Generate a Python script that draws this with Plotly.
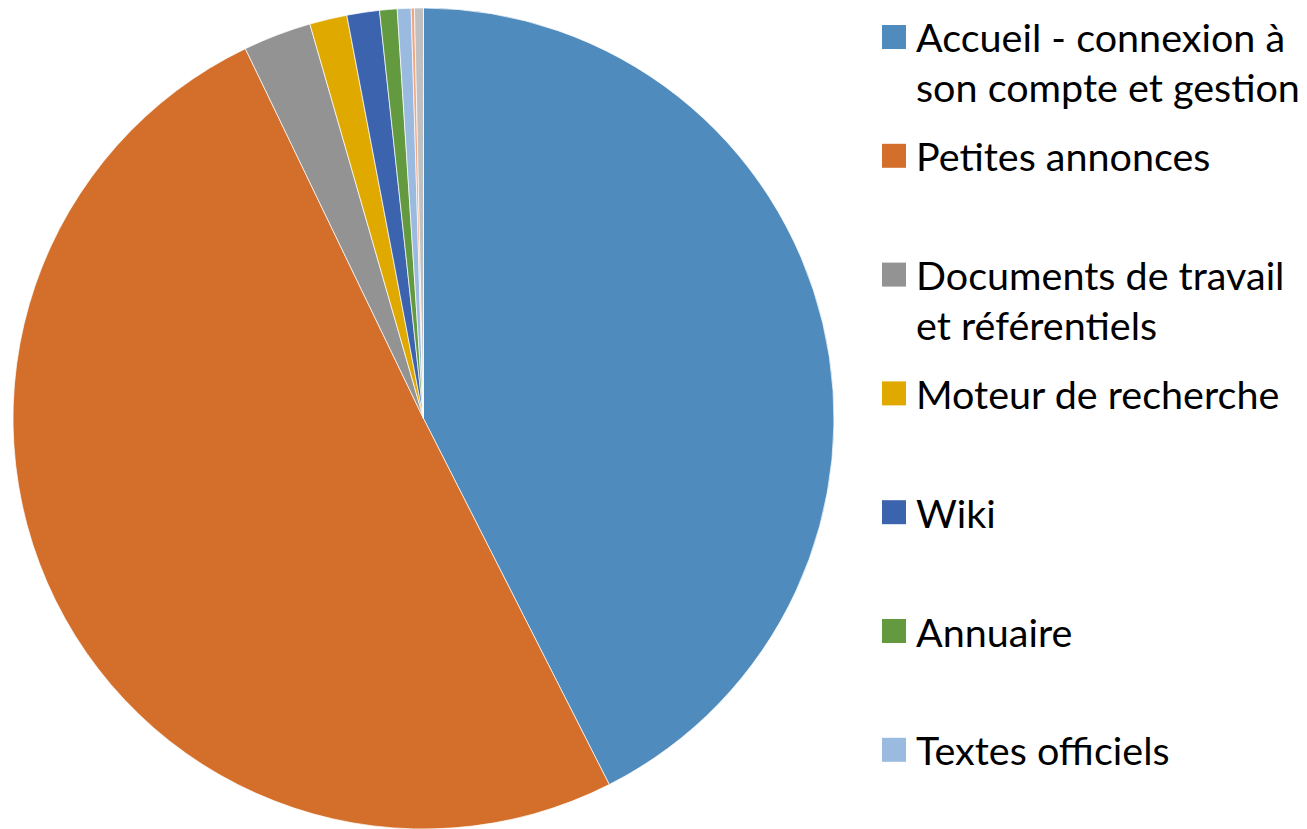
import plotly.graph_objects as go

# Data (percent shares, clockwise from 12 o'clock)
labels = [
    "Accueil - connexion à son compte et gestion",
    "Petites annonces",
    "Documents de travail et référentiels",
    "Moteur de recherche",
    "Wiki",
    "Annuaire",
    "Textes officiels",
    "Actualités",
    "Autres",
]
values = [42.5, 50.3, 2.68, 1.47, 1.28, 0.69, 0.54, 0.13, 0.35]
colors = ["#508BBE", "#D36F2B", "#939393", "#E0A900", "#3C64AE",
          "#63993F", "#9ABAE0", "#F0A683", "#C0C0C0"]
# legend text as wrapped in the reference (only the first 7 entries fit)
legend_text = [
    "Accueil - connexion à<br>son compte et gestion",
    "Petites annonces",
    "Documents de travail<br>et référentiels",
    "Moteur de recherche",
    "Wiki",
    "Annuaire",
    "Textes officiels",
]

# page has an 8px body margin -> figure is 8px smaller and offset
OFF = 8
W, H = 1307 - OFF, 829 - OFF
FONT = "Lato"
FS = 39.5

fig = go.Figure()
fig.add_trace(go.Pie(
    labels=labels, values=values, sort=False, direction="clockwise",
    rotation=0, textinfo="none", hoverinfo="label+percent",
    marker=dict(colors=colors, line=dict(color="white", width=0.7)),
    domain=dict(x=[5 / W, 826 / W], y=[0, 1]),
    showlegend=False,
))

# Custom legend (Excel-like even spacing, truncated at the bottom)
shapes, annotations = [], []
y0, step, line_gap = 37 - OFF, 118.8, 50
for i, txt in enumerate(legend_text):
    yc = y0 + i * step
    shapes.append(dict(type="rect", xref="paper", yref="paper",
                       x0=(882 - OFF) / W, x1=(906 - OFF) / W,
                       y0=(H - (yc + 12)) / H, y1=(H - (yc - 12)) / H,
                       fillcolor=colors[i], line=dict(width=0)))
    for k, part in enumerate(txt.split("<br>")):
        yl = yc + k * line_gap
        annotations.append(dict(xref="paper", yref="paper",
                                x=(914 - OFF) / W, y=(H - yl) / H,
                                xanchor="left", yanchor="middle",
                                text=part, showarrow=False,
                                font=dict(family=FONT, size=FS, color="black")))

fig.update_layout(
    width=W, height=H,
    margin=dict(l=0, r=0, t=0, b=0),
    paper_bgcolor="white", plot_bgcolor="white",
    shapes=shapes, annotations=annotations,
    font=dict(family=FONT),
)

fig.write_html("out.html")
